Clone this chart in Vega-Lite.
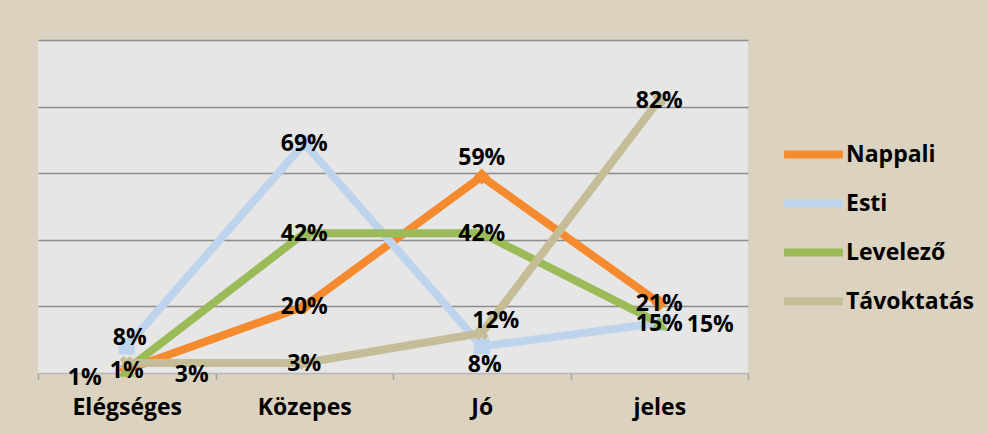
{
  "$schema": "https://vega.github.io/schema/vega-lite/v6.json",
  "autosize": "none",
  "width": 710,
  "height": 333,
  "padding": {"left": 38, "top": 40, "right": 239, "bottom": 61},
  "background": "#dbd2c0",
  "config": {
    "view": {"fill": "#e6e6e6", "stroke": null},
    "font": "Open Sans",
    "text": {"font": "Open Sans", "fontWeight": "bold", "fontSize": 23, "baseline": "middle", "align": "center"}
  },
  "data": {
    "values": [
      {"grade": "Elégséges", "series": "Nappali", "value": 0.01},
      {"grade": "Közepes", "series": "Nappali", "value": 0.20},
      {"grade": "Jó", "series": "Nappali", "value": 0.59},
      {"grade": "jeles", "series": "Nappali", "value": 0.21},
      {"grade": "Elégséges", "series": "Esti", "value": 0.08},
      {"grade": "Közepes", "series": "Esti", "value": 0.69},
      {"grade": "Jó", "series": "Esti", "value": 0.08},
      {"grade": "jeles", "series": "Esti", "value": 0.15},
      {"grade": "Elégséges", "series": "Levelező", "value": 0.01},
      {"grade": "Közepes", "series": "Levelező", "value": 0.42},
      {"grade": "Jó", "series": "Levelező", "value": 0.42},
      {"grade": "jeles", "series": "Levelező", "value": 0.15},
      {"grade": "Elégséges", "series": "Távoktatás", "value": 0.03},
      {"grade": "Közepes", "series": "Távoktatás", "value": 0.03},
      {"grade": "Jó", "series": "Távoktatás", "value": 0.12},
      {"grade": "jeles", "series": "Távoktatás", "value": 0.82}
    ]
  },
  "encoding": {
    "x": {
      "field": "grade", "type": "nominal", "sort": ["Elégséges", "Közepes", "Jó", "jeles"],
      "bandPosition": 0.5,
      "scale": {"type": "band", "paddingInner": 0, "paddingOuter": 0},
      "axis": {
        "title": null, "labelAngle": 0, "labelFont": "Open Sans", "labelFontWeight": "bold",
        "labelFontSize": 23, "labelColor": "#000000", "labelPadding": 17,
        "tickBand": "extent", "tickSize": 6, "tickColor": "#a0a0a0", "tickWidth": 1.5,
        "domainColor": "#b8b8b8", "domainWidth": 1.5, "grid": false
      }
    },
    "y": {
      "field": "value", "type": "quantitative",
      "scale": {"domain": [0, 1], "nice": false},
      "axis": {
        "title": null, "labels": false, "ticks": false, "domain": false,
        "values": [0.2, 0.4, 0.6, 0.8, 1], "grid": true, "gridColor": "#8c8c8c", "gridWidth": 1.5
      }
    },
    "color": {
      "field": "series", "type": "nominal",
      "sort": ["Nappali", "Esti", "Levelező", "Távoktatás"],
      "scale": {
        "domain": ["Nappali", "Esti", "Levelező", "Távoktatás"],
        "range": ["#f58a2e", "#bed4ec", "#9bbb59", "#c4bd97"]
      },
      "legend": {
        "title": null, "orient": "none", "legendX": 747, "legendY": 86,
        "symbolType": "M-1.2,0H1.2", "symbolStrokeWidth": 8, "symbolSize": 2401,
        "labelFont": "Open Sans", "labelFontWeight": "bold", "labelFontSize": 23, "labelColor": "#000000",
        "rowPadding": 4, "labelOffset": 4, "symbolOffset": 0
      }
    }
  },
  "layer": [
    {"mark": {"type": "line", "strokeWidth": 8}, "encoding": {"detail": {"field": "series"}}},
    {
      "transform": [{"filter": "datum.series === 'Nappali'"}],
      "mark": {"type": "point", "shape": "diamond", "filled": true, "size": 260, "opacity": 1},
      "encoding": {}
    },
    {
      "transform": [{"filter": "datum.series === 'Esti'"}],
      "mark": {"type": "point", "shape": "square", "filled": true, "size": 260, "opacity": 1},
      "encoding": {}
    },
    {
      "transform": [{"filter": "datum.series === 'Levelező'"}],
      "mark": {"type": "point", "shape": "triangle-up", "filled": true, "size": 260, "opacity": 1},
      "encoding": {}
    },
    {
      "transform": [{"filter": "datum.series === 'Távoktatás'"}],
      "mark": {"type": "point", "shape": "cross", "filled": true, "size": 200, "opacity": 1, "angle": 45},
      "encoding": {}
    },
    {
      "transform": [{"filter": "(datum.series === 'Nappali' && (datum.grade === 'Közepes' || datum.grade === 'jeles')) || datum.series === 'Levelező' || (datum.series === 'Esti' && datum.grade === 'Közepes') || (datum.series === 'Távoktatás' && (datum.grade === 'Közepes' || datum.grade === 'jeles'))"}],
      "mark": {"type": "text", "dy": 1},
      "encoding": {"text": {"field": "value", "type": "quantitative", "format": ".0%"}, "color": {"value": "#000000"}}
    },
    {
      "transform": [{"filter": "datum.series === 'Nappali' && datum.grade === 'Jó'"}],
      "mark": {"type": "text", "dy": -19},
      "encoding": {"text": {"field": "value", "type": "quantitative", "format": ".0%"}, "color": {"value": "#000000"}}
    },
    {
      "transform": [{"filter": "datum.series === 'Nappali' && datum.grade === 'Elégséges'"}],
      "mark": {"type": "text", "dx": -42, "dy": 8},
      "encoding": {"text": {"field": "value", "type": "quantitative", "format": ".0%"}, "color": {"value": "#000000"}}
    },
    {
      "transform": [{"filter": "datum.series === 'Esti' && datum.grade === 'Elégséges'"}],
      "mark": {"type": "text", "dx": 3, "dy": -8},
      "encoding": {"text": {"field": "value", "type": "quantitative", "format": ".0%"}, "color": {"value": "#000000"}}
    },
    {
      "transform": [{"filter": "datum.series === 'Esti' && datum.grade === 'Jó'"}],
      "mark": {"type": "text", "dx": 3, "dy": 19},
      "encoding": {"text": {"field": "value", "type": "quantitative", "format": ".0%"}, "color": {"value": "#000000"}}
    },
    {
      "transform": [{"filter": "datum.series === 'Esti' && datum.grade === 'jeles'"}],
      "mark": {"type": "text", "dx": 51, "dy": 2},
      "encoding": {"text": {"field": "value", "type": "quantitative", "format": ".0%"}, "color": {"value": "#000000"}}
    },
    {
      "transform": [{"filter": "datum.series === 'Távoktatás' && datum.grade === 'Elégséges'"}],
      "mark": {"type": "text", "dx": 65, "dy": 12},
      "encoding": {"text": {"field": "value", "type": "quantitative", "format": ".0%"}, "color": {"value": "#000000"}}
    },
    {
      "transform": [{"filter": "datum.series === 'Távoktatás' && datum.grade === 'Jó'"}],
      "mark": {"type": "text", "dx": 14, "dy": -12},
      "encoding": {"text": {"field": "value", "type": "quantitative", "format": ".0%"}, "color": {"value": "#000000"}}
    }
  ]
}
